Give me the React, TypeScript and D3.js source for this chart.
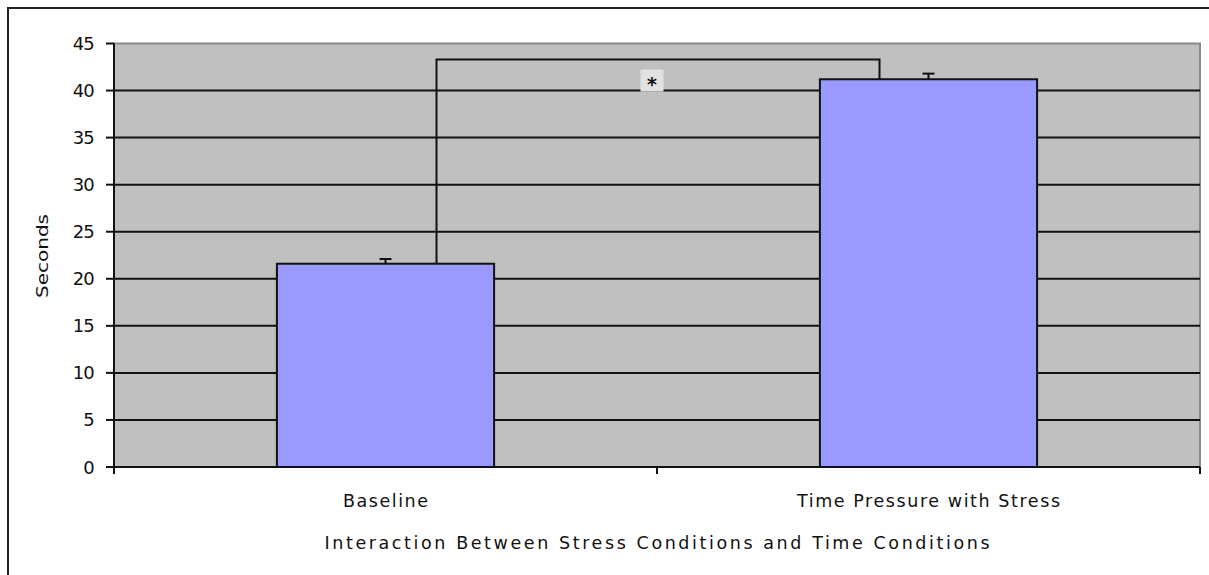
import React from "react";
import * as d3 from "d3";

const categories = ["Baseline", "Time Pressure with Stress"];
const means = [21.6, 41.2];
const errors = [0.5, 0.6];
const yTicks = [0, 5, 10, 15, 20, 25, 30, 35, 40, 45];
const bracketValue = 43.3;
const significance = "*";
const yTitle = "Seconds";
const xTitle = "Interaction Between Stress Conditions and Time Conditions";

const W = 1209;
const H = 575;
const left = 114;
const right = 1200;
const top = 43.5;
const bottom = 467;
const font = "'DejaVu Sans', 'Liberation Sans', Arial, sans-serif";

export default function App() {
  const x = d3.scaleBand<string>().domain(categories).range([left, right]).paddingInner(0.6).paddingOuter(0.3);
  const y = d3.scaleLinear().domain([0, 45]).range([bottom, top]);
  const cx = (c: string) => (x(c) as number) + x.bandwidth() / 2;
  const bx0 = cx(categories[0]) + 51;
  const bx1 = cx(categories[1]) - 49;
  const by = y(bracketValue);
  const starX = (bx0 + bx1) / 2 - 6;
  const starY = y(40) - 10;
  const labelWidths = [85, 263];
  return (
    <svg width={W} height={H} style={{ position: "absolute", left: 0, top: 0, background: "#fff" }}>
      {/* outer frame */}
      <path d={`M8,${H + 5} L8,8 L${W + 5},8`} fill="none" stroke="#222" strokeWidth={2} />
      {/* plot area */}
      <rect x={left} y={top} width={right - left} height={bottom - top} fill="#c0c0c0" stroke="#8a8a8a" strokeWidth={2} />
      {/* gridlines */}
      {yTicks.filter((t) => t > 0 && t < 45).map((t) => (
        <line key={t} x1={left} x2={right} y1={y(t)} y2={y(t)} stroke="#111" strokeWidth={2} />
      ))}
      {/* bracket */}
      <path
        d={`M${bx0},${y(means[0])} L${bx0},${by} L${bx1},${by} L${bx1},${y(means[1])}`}
        fill="none"
        stroke="#111"
        strokeWidth={2}
      />
      {/* bars */}
      {categories.map((c, i) => (
        <rect
          key={c}
          x={x(c)}
          y={y(means[i])}
          width={x.bandwidth()}
          height={bottom - y(means[i])}
          fill="#9999ff"
          stroke="#111"
          strokeWidth={2}
        />
      ))}
      {/* error bars */}
      {categories.map((c, i) => (
        <g key={c} stroke="#111" strokeWidth={2}>
          <line x1={cx(c)} x2={cx(c)} y1={y(means[i])} y2={y(means[i] + errors[i])} />
          <line x1={cx(c) - 6} x2={cx(c) + 6} y1={y(means[i] + errors[i])} y2={y(means[i] + errors[i])} />
        </g>
      ))}
      {/* significance marker */}
      <rect x={starX - 11.5} y={starY - 11} width={23} height={22} fill="#e2e2e2" />
      <text x={starX} y={starY + 10} textAnchor="middle" fontFamily={font} fontSize={19} fontWeight="bold" fill="#111">
        {significance}
      </text>
      {/* y axis */}
      <line x1={left} x2={left} y1={top} y2={bottom + 1} stroke="#111" strokeWidth={2} />
      {yTicks.map((t) => (
        <g key={t}>
          <line x1={left - 8} x2={left} y1={y(t)} y2={y(t)} stroke="#111" strokeWidth={2} />
          <text x={94} y={y(t) + 6.5} textAnchor="end" fontFamily={font} fontSize={18} fill="#111" letterSpacing={-0.8}>
            {t}
          </text>
        </g>
      ))}
      <text
        transform={`translate(48,256) rotate(-90)`}
        textAnchor="middle"
        fontFamily={font}
        fontSize={16}
        fill="#111"
        textLength={84}
        lengthAdjust="spacingAndGlyphs"
      >
        {yTitle}
      </text>
      {/* x axis */}
      <line x1={left} x2={right} y1={bottom} y2={bottom} stroke="#111" strokeWidth={2} />
      {[left, (left + right) / 2, right].map((p, i) => (
        <line key={i} x1={p} x2={p} y1={bottom} y2={bottom + 7} stroke="#111" strokeWidth={2} />
      ))}
      {categories.map((c, i) => (
        <text
          key={c}
          x={cx(c)}
          y={507}
          textAnchor="middle"
          fontFamily={font}
          fontSize={17.5}
          fill="#111"
          textLength={labelWidths[i]}
          lengthAdjust="spacing"
        >
          {c}
        </text>
      ))}
      <text
        x={(left + right) / 2}
        y={549}
        textAnchor="middle"
        fontFamily={font}
        fontSize={17.5}
        fill="#111"
        textLength={665}
        lengthAdjust="spacing"
      >
        {xTitle}
      </text>
    </svg>
  );
}
